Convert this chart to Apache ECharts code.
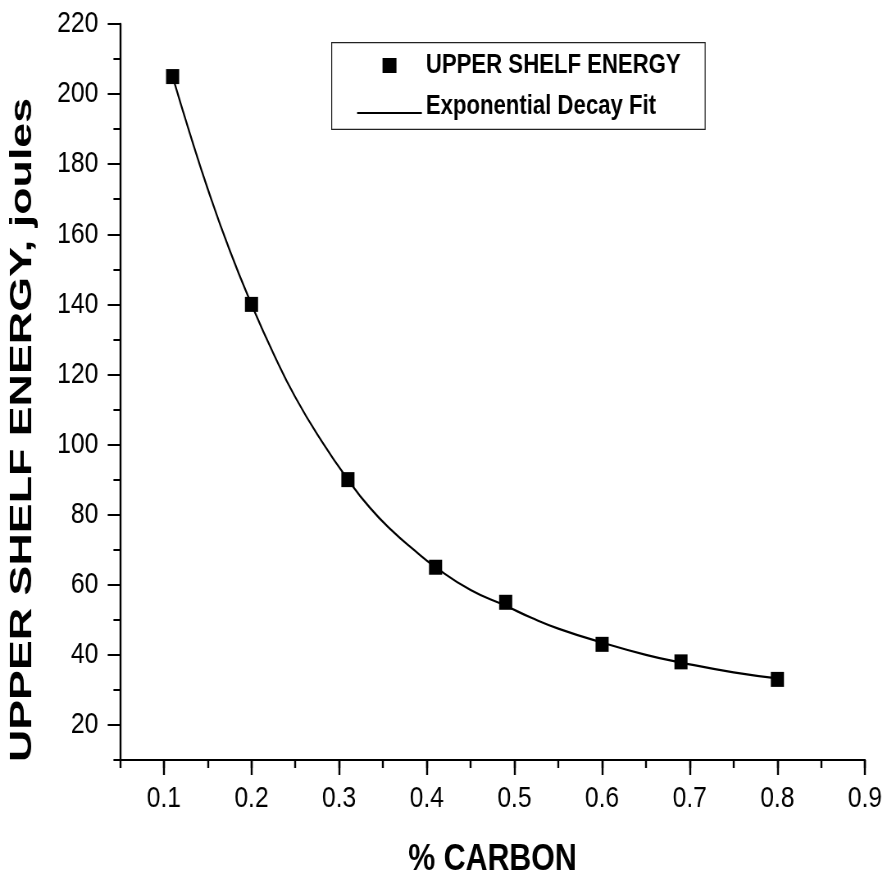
<!DOCTYPE html>
<html>
<head>
<meta charset="utf-8">
<script src="https://cdn.jsdelivr.net/npm/echarts@6/dist/echarts.min.js"></script>
<style>
html,body{margin:0;padding:0;background:#fff;overflow:hidden;}
#wrap{width:887px;height:878px;overflow:hidden;position:relative;}
#c{width:1082px;height:878px;transform:scaleX(0.81978);transform-origin:0 0;position:absolute;left:0;top:0;}
</style>
</head>
<body>
<div id="wrap"><div id="c"></div></div>
<script>
// Measured points
var carbon = [0.11, 0.2, 0.31, 0.41, 0.49, 0.6, 0.69, 0.8];
var energy = [205, 140, 90, 65, 55, 43, 38, 33];
// Fitted curve
var fitX = [0.11, 0.13, 0.15, 0.175, 0.2, 0.225, 0.25, 0.28, 0.31, 0.335, 0.36, 0.385, 0.41, 0.45, 0.49, 0.52, 0.55, 0.6, 0.65, 0.69, 0.75, 0.8];
var fitY = [205, 188.5, 173, 155.5, 140, 126, 113.5, 101, 90, 82, 75.5, 70, 65, 58.5, 54, 50.5, 47.5, 43.5, 40, 37.8, 35, 33.3];
var xTickLabels = [0.1, 0.2, 0.3, 0.4, 0.5, 0.6, 0.7, 0.8, 0.9];
var yTickLabels = [20, 40, 60, 80, 100, 120, 140, 160, 180, 200, 220];
var seriesNames = ['UPPER SHELF ENERGY', 'Exponential Decay Fit'];

var FONT = '"Liberation Sans", Arial, sans-serif';
var chart = echarts.init(document.getElementById('c'), null, {renderer: 'canvas', width: 1082, height: 878});

var scatterData = carbon.map(function (x, i) { return [x, energy[i]]; });
var fitData = fitX.map(function (x, i) { return [x, fitY[i]]; });

var hLine = {color: '#000', width: 2};     // horizontal strokes
var vLine = {color: '#000', width: 2.4};   // vertical strokes (squeezed by the page)

chart.setOption({
  animation: false,
  backgroundColor: '#fff',
  grid: {left: 146.4, right: 26.8, top: 24, bottom: 118, containLabel: false, outerBoundsMode: 'none'},
  legend: {
    orient: 'vertical',
    left: 404.6, top: 42.7,
    padding: [9.3, 30, 8.8, 31],
    borderColor: '#222', borderWidth: 1.2,
    itemWidth: 79, itemHeight: 15, itemGap: 14.5,
    selectedMode: false,
    textStyle: {fontFamily: FONT, fontWeight: 'bold', fontSize: 27, color: '#000'},
    data: [
      {name: seriesNames[0], icon: 'path://M0,0M79,15M31,0L48,0L48,15L31,15Z', itemStyle: {color: '#000'}},
      {name: seriesNames[1], icon: 'path://M0,0M79,15M0,12.5L79,12.5L79,14.5L0,14.5Z', itemStyle: {color: '#000'}}
    ]
  },
  xAxis: [{
    type: 'value', min: 0.05, max: 0.9, interval: 0.05,
    axisLine: {show: true, lineStyle: hLine},
    axisTick: {show: true, length: 8, lineStyle: vLine},
    splitLine: {show: false},
    axisLabel: {customValues: xTickLabels, margin: 24, fontFamily: FONT, fontSize: 30, color: '#000',
      formatter: function (v) { return (Math.round(v * 10) / 10).toFixed(1); }},
    name: '% CARBON', nameLocation: 'middle', nameGap: 81,
    nameTextStyle: {fontFamily: FONT, fontWeight: 'bold', fontSize: 37, color: '#000'}
  }, {
    type: 'value', min: 0.05, max: 0.9, position: 'bottom',
    axisLine: {show: false},
    axisTick: {show: true, length: 15, customValues: xTickLabels, lineStyle: vLine},
    axisLabel: {show: false},
    splitLine: {show: false}
  }],
  yAxis: [{
    type: 'value', min: 10, max: 220, interval: 10,
    axisLine: {show: true, lineStyle: vLine},
    axisTick: {show: true, length: 8, lineStyle: hLine},
    splitLine: {show: false},
    axisLabel: {customValues: yTickLabels, margin: 26.5, fontFamily: FONT, fontSize: 30, color: '#000'}
  }, {
    type: 'value', min: 10, max: 220, position: 'left',
    axisLine: {show: false},
    axisTick: {show: true, length: 15, customValues: yTickLabels, lineStyle: hLine},
    axisLabel: {show: false},
    splitLine: {show: false}
  }],
  graphic: [{
    type: 'text',
    x: 27.4, y: 430,
    rotation: Math.PI / 2,
    scaleX: 1.21,
    style: {
      text: 'UPPER SHELF ENERGY, joules',
      font: 'bold 37px "Liberation Sans", Arial, sans-serif',
      fill: '#000',
      textAlign: 'center',
      textVerticalAlign: 'middle'
    }
  }],
  series: [{
    name: seriesNames[1],
    type: 'line',
    xAxisIndex: 0, yAxisIndex: 0,
    data: fitData,
    smooth: 0.5,
    showSymbol: false,
    symbol: 'none',
    lineStyle: {color: '#000', width: 2.2},
    itemStyle: {color: '#000'},
    z: 2
  }, {
    name: seriesNames[0],
    type: 'scatter',
    xAxisIndex: 0, yAxisIndex: 0,
    data: scatterData,
    symbol: 'rect',
    symbolSize: [16, 15],
    itemStyle: {color: '#000', opacity: 1},
    z: 3
  }]
});
</script>
</body>
</html>
